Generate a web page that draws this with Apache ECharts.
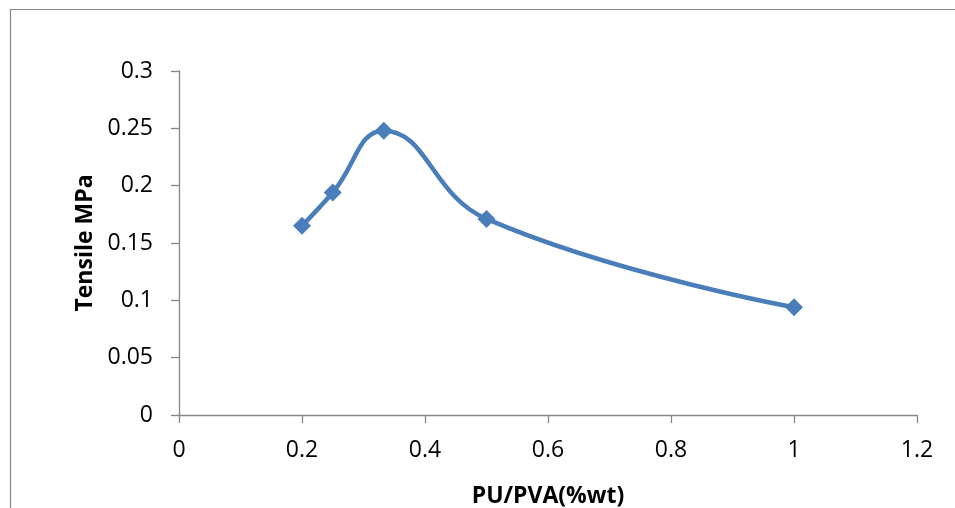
<!DOCTYPE html>
<html>
<head>
<meta charset="utf-8">
<script src="https://cdn.jsdelivr.net/npm/echarts@6/dist/echarts.min.js"></script>
<style>
html,body{margin:0;padding:0;background:#fff;}
#chart{width:955px;height:508px;}
</style>
</head>
<body>
<div id="chart"></div>
<script>
const xValues = [0.2, 0.25, 0.333, 0.5, 1.0];
const yValues = [0.165, 0.194, 0.248, 0.171, 0.094];
const xTitle = 'PU/PVA(%wt)';
const yTitle = 'Tensile MPa';

const chart = echarts.init(document.getElementById('chart'), null, {renderer: 'canvas'});
const axisColor = '#868686';
const fontFamily = '"Open Sans", "Liberation Sans", sans-serif';
chart.setOption({
  animation: false,
  backgroundColor: '#fff',
  graphic: [{
    type: 'rect',
    shape: {x: 10.5, y: 9.5, width: 1200, height: 1200},
    style: {fill: 'none', stroke: '#898989', lineWidth: 1.2},
    silent: true,
    z: -1
  }],
  grid: {left: 179, right: 38, top: 71, bottom: 93, containLabel: false, outerBoundsMode: 'none'},
  xAxis: {
    type: 'value', min: 0, max: 1.2, interval: 0.2,
    name: xTitle, nameLocation: 'middle', nameGap: 70,
    nameTextStyle: {fontFamily: fontFamily, fontWeight: 'bold', fontSize: 23, color: '#000'},
    axisLine: {show: true, lineStyle: {color: axisColor, width: 1.3}},
    axisTick: {show: true, length: 8, lineStyle: {color: axisColor, width: 1.3}},
    axisLabel: {fontFamily: fontFamily, fontSize: 23, color: '#000', margin: 24,
      formatter: v => String(parseFloat(v.toFixed(2)))},
    splitLine: {show: false}
  },
  yAxis: {
    type: 'value', min: 0, max: 0.3, interval: 0.05,
    name: yTitle, nameLocation: 'middle', nameGap: 82, nameRotate: 90,
    nameTextStyle: {fontFamily: fontFamily, fontWeight: 'bold', fontSize: 23, color: '#000'},
    axisLine: {show: true, lineStyle: {color: axisColor, width: 1.3}},
    axisTick: {show: true, length: 8, lineStyle: {color: axisColor, width: 1.3}},
    axisLabel: {fontFamily: fontFamily, fontSize: 23, color: '#000', margin: 26,
      formatter: v => String(parseFloat(v.toFixed(2)))},
    splitLine: {show: false}
  },
  series: [{
    type: 'line',
    data: xValues.map((x, i) => [x, yValues[i]]),
    smooth: 0.45,
    symbol: 'diamond',
    symbolSize: 18,
    itemStyle: {color: '#4a7ebb'},
    lineStyle: {color: '#4a7ebb', width: 4.5}
  }]
});
</script>
</body>
</html>
